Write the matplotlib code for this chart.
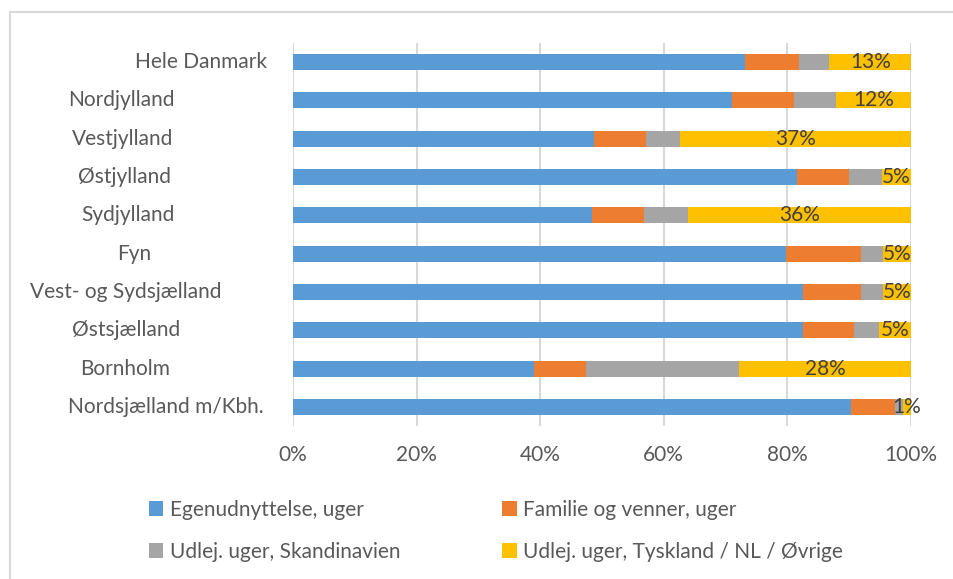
import matplotlib
matplotlib.use("Agg")
import matplotlib.pyplot as plt
import numpy as np
from matplotlib.lines import Line2D
from matplotlib.patches import Patch
from matplotlib.ticker import PercentFormatter
import matplotlib.transforms as mtransforms

plt.rcParams['font.family'] = ['Lato', 'DejaVu Sans']

regions = ["Hele Danmark", "Nordjylland", "Vestjylland", "Østjylland", "Sydjylland",
           "Fyn", "Vest- og Sydsjælland", "Østsjælland", "Bornholm", "Nordsjælland m/Kbh."]
egen = [73.1, 71.0, 48.7, 81.6, 48.4, 79.7, 82.6, 82.6, 39.0, 90.3]
familie = [8.8, 10.0, 8.4, 8.4, 8.4, 12.2, 9.3, 8.1, 8.4, 7.1]
skand = [4.9, 6.8, 5.5, 5.3, 7.1, 3.6, 3.6, 4.2, 24.8, 1.3]
tysk = [13.2, 12.2, 37.4, 4.7, 36.1, 4.5, 4.5, 5.1, 27.8, 1.3]
tysk_labels = ["13%", "12%", "37%", "5%", "36%", "5%", "5%", "5%", "28%", "1%"]

series = ["Egenudnyttelse, uger", "Familie og venner, uger",
          "Udlej. uger, Skandinavien", "Udlej. uger, Tyskland / NL / Øvrige"]
colors = ["#5b9bd5", "#ed7d31", "#a5a5a5", "#ffc000"]

# horizontal centre (pixels) of each category label, as placed in the original
label_x = [201, 121, 123, 125, 128, 134, 126, 126, 125, 166]

fig = plt.figure(figsize=(9.54, 5.79), dpi=100)
ax = fig.add_axes([293/954, 1 - 426/579, 618/954, 383/579])

y = np.arange(len(regions))
left = np.zeros(len(regions))
for vals, c in zip([egen, familie, skand, tysk], colors):
    ax.barh(y, vals, left=left, height=0.42, color=c, zorder=3)
    left = left + np.array(vals)

# labels on the last segment
start = np.array(egen) + np.array(familie) + np.array(skand)
for i, lab in enumerate(tysk_labels):
    ax.text(start[i] + tysk[i] / 2, y[i], lab, ha='center', va='center',
            fontsize=15, color='#404040', zorder=4)

ax.set_xlim(0, 100)
ax.set_ylim(len(regions) - 0.5, -0.5)
ax.set_xticks([0, 20, 40, 60, 80, 100])
ax.xaxis.set_major_formatter(PercentFormatter(decimals=0))
ax.set_yticks(y)
ax.set_yticklabels([])
ax.tick_params(axis='x', length=0, pad=14, labelsize=15, labelcolor='#595959')
ax.tick_params(axis='y', length=0)
ax.grid(axis='x', color='#d9d9d9', linewidth=1.5, zorder=0)
for s in ax.spines.values():
    s.set_visible(False)

# category labels
trans = mtransforms.blended_transform_factory(fig.transFigure, ax.transData)
for i, name in enumerate(regions):
    ax.text(label_x[i] / 954, y[i], name, transform=trans, ha='center', va='center',
            fontsize=15, color='#595959', clip_on=False)

# legend, filled row by row
order = [0, 2, 1, 3]
handles = [Patch(facecolor=colors[k]) for k in order]
labels = [series[k] for k in order]
fig.legend(handles, labels, loc='upper left', bbox_to_anchor=(130/954, 1 - 481/579),
           ncol=2, frameon=False, fontsize=15, labelcolor='#595959',
           handlelength=0.7, handleheight=0.7, handletextpad=0.3,
           columnspacing=4.9, labelspacing=1.05)

# chart area border (top and left visible)
fig.add_artist(Line2D([10/954, 1], [1 - 12/579, 1 - 12/579], color='#d9d9d9', lw=1.5))
fig.add_artist(Line2D([10/954, 10/954], [0, 1 - 12/579], color='#d9d9d9', lw=1.5))

fig.savefig("out.png", dpi=100)
